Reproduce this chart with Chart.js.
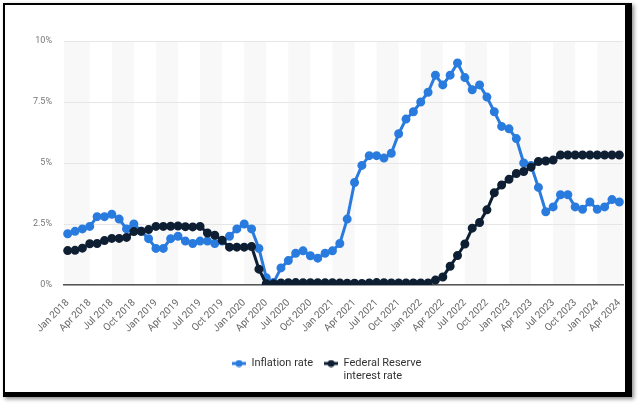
<!DOCTYPE html>
<html>
<head>
<meta charset="UTF-8">
<title>Inflation rate and Federal Reserve interest rate</title>
<script src="https://cdn.jsdelivr.net/npm/chart.js"></script>
<style>
  body { margin: 0; background: #fff; }
  #wrap { position: relative; width: 640px; height: 408px; overflow: hidden; }
  #chart { position: absolute; left: 0; top: 0; }
  #frame {
    position: absolute; left: 3px; top: 3px; width: 620px; height: 387px;
    border-style: solid; border-color: #000; border-width: 2px 7px 5px 2px;
    box-shadow: 2px 2px 4px rgba(0,0,0,0.45); pointer-events: none;
  }
</style>
</head>
<body>
<div id="wrap">
  <canvas id="chart" width="640" height="408"></canvas>
  <div id="frame"></div>
</div>
<script>
// monthly, Jan 2018 - Apr 2024
const months = [
  'Jan 2018','Feb 2018','Mar 2018','Apr 2018','May 2018','Jun 2018','Jul 2018','Aug 2018','Sep 2018','Oct 2018','Nov 2018','Dec 2018',
  'Jan 2019','Feb 2019','Mar 2019','Apr 2019','May 2019','Jun 2019','Jul 2019','Aug 2019','Sep 2019','Oct 2019','Nov 2019','Dec 2019',
  'Jan 2020','Feb 2020','Mar 2020','Apr 2020','May 2020','Jun 2020','Jul 2020','Aug 2020','Sep 2020','Oct 2020','Nov 2020','Dec 2020',
  'Jan 2021','Feb 2021','Mar 2021','Apr 2021','May 2021','Jun 2021','Jul 2021','Aug 2021','Sep 2021','Oct 2021','Nov 2021','Dec 2021',
  'Jan 2022','Feb 2022','Mar 2022','Apr 2022','May 2022','Jun 2022','Jul 2022','Aug 2022','Sep 2022','Oct 2022','Nov 2022','Dec 2022',
  'Jan 2023','Feb 2023','Mar 2023','Apr 2023','May 2023','Jun 2023','Jul 2023','Aug 2023','Sep 2023','Oct 2023','Nov 2023','Dec 2023',
  'Jan 2024','Feb 2024','Mar 2024','Apr 2024'
];

const inflation = [
  2.1, 2.2, 2.3, 2.4, 2.8, 2.8, 2.9, 2.7, 2.3, 2.5, 2.2, 1.9,
  1.5, 1.5, 1.9, 2.0, 1.8, 1.7, 1.8, 1.8, 1.7, 1.8, 2.0, 2.3,
  2.5, 2.3, 1.5, 0.3, 0.1, 0.7, 1.0, 1.3, 1.4, 1.2, 1.1, 1.3,
  1.4, 1.7, 2.7, 4.2, 4.9, 5.3, 5.3, 5.2, 5.4, 6.2, 6.8, 7.1,
  7.5, 7.9, 8.6, 8.2, 8.6, 9.1, 8.5, 8.0, 8.2, 7.7, 7.1, 6.5,
  6.4, 6.0, 5.0, 4.9, 4.0, 3.0, 3.2, 3.7, 3.7, 3.2, 3.1, 3.4,
  3.1, 3.2, 3.5, 3.4
];

const fedRate = [
  1.41, 1.42, 1.51, 1.69, 1.70, 1.82, 1.91, 1.91, 1.95, 2.19, 2.20, 2.27,
  2.40, 2.40, 2.41, 2.42, 2.39, 2.38, 2.40, 2.13, 2.04, 1.83, 1.55, 1.55,
  1.55, 1.58, 0.65, 0.05, 0.05, 0.08, 0.09, 0.10, 0.09, 0.09, 0.09, 0.09,
  0.09, 0.08, 0.07, 0.07, 0.06, 0.08, 0.10, 0.09, 0.08, 0.08, 0.08, 0.08,
  0.08, 0.08, 0.20, 0.33, 0.77, 1.21, 1.68, 2.33, 2.56, 3.08, 3.78, 4.10,
  4.33, 4.57, 4.65, 4.83, 5.06, 5.08, 5.12, 5.33, 5.33, 5.33, 5.33, 5.33,
  5.33, 5.33, 5.33, 5.33
];

const yTicks = [0, 2.5, 5, 7.5, 10];
const legendText = ['Inflation rate', ['Federal Reserve', 'interest rate']];

const blue = '#2a7bde';
const navy = '#0e1f33';

Chart.defaults.font.family = 'Roboto, sans-serif';

// legend symbol: short line with a dot
function marker(color) {
  const c = document.createElement('canvas');
  c.width = 14; c.height = 8;
  const g = c.getContext('2d');
  g.strokeStyle = color; g.lineWidth = 3;
  g.beginPath(); g.moveTo(0, 4); g.lineTo(14, 4); g.stroke();
  g.fillStyle = color;
  g.beginPath(); g.arc(7, 4, 3.5, 0, Math.PI * 2); g.fill();
  return c;
}

// light grey quarter bands behind the plot
const bands = {
  id: 'bands',
  beforeDraw(chart) {
    const { ctx, chartArea, scales: { x } } = chart;
    ctx.save();
    ctx.fillStyle = '#f8f8f8';
    for (let i = 0; i < months.length; i += 6) {
      const from = i === 0 ? chartArea.left : x.getPixelForValue(i);
      const to = i + 3 >= months.length - 1 ? chartArea.right : x.getPixelForValue(i + 3);
      ctx.fillRect(from, chartArea.top, to - from, chartArea.bottom - chartArea.top);
    }
    ctx.restore();
  }
};

// the legend measures a two-line label as one long string; put the row where it belongs
const legendRow = {
  id: 'legendRow',
  afterLayout(chart) {
    const lg = chart.legend;
    if (!lg || !lg.lineWidths) return;
    const pad = lg.options.labels.padding;
    const startX = 232;
    lg.lineWidths[0] = lg.left + pad + lg.right - 2 * startX;
  }
};

new Chart(document.getElementById('chart'), {
  type: 'line',
  data: {
    labels: months,
    datasets: [
      {
        label: 'Inflation rate', data: inflation,
        borderColor: blue, backgroundColor: blue,
        borderWidth: 3, pointRadius: 3, pointHoverRadius: 3, order: 1
      },
      {
        label: 'Federal Reserve interest rate', data: fedRate,
        borderColor: navy, backgroundColor: navy,
        borderWidth: 3, pointRadius: 3, pointHoverRadius: 3, order: 0
      }
    ]
  },
  options: {
    responsive: false,
    animation: false,
    layout: { padding: { left: 14, right: 17, top: 41, bottom: 29 } },
    scales: {
      x: {
        offset: true,
        grid: { display: false },
        border: { display: true, color: '#555', width: 1.5 },
        ticks: {
          autoSkip: false, minRotation: 45, maxRotation: 45, padding: 4,
          color: '#666', font: { size: 10 },
          callback: (v, i) => i % 3 === 0 ? months[i] : ''
        },
        afterFit: s => { s.height = 62; }
      },
      y: {
        min: 0, max: 10,
        afterBuildTicks: s => { s.ticks = yTicks.map(v => ({ value: v })); },
        grid: { color: '#e6e6e6', lineWidth: 1, drawTicks: false },
        border: { display: false },
        ticks: {
          padding: 12, color: '#777', font: { size: 9 },
          callback: v => v + '%'
        },
        afterFit: s => { s.width = 50; }
      }
    },
    plugins: {
      tooltip: { enabled: false },
      legend: {
        position: 'bottom',
        labels: {
          usePointStyle: true, pointStyleWidth: 14, boxHeight: 8,
          padding: 11, color: '#333', font: { size: 11 },
          generateLabels: chart => chart.data.datasets.map((ds, i) => ({
            text: legendText[i],
            fillStyle: ds.borderColor, strokeStyle: ds.borderColor, lineWidth: 0,
            pointStyle: marker(ds.borderColor), fontColor: '#333',
            datasetIndex: i, hidden: !chart.isDatasetVisible(i)
          }))
        }
      }
    }
  },
  plugins: [bands, legendRow]
});
</script>
</body>
</html>
